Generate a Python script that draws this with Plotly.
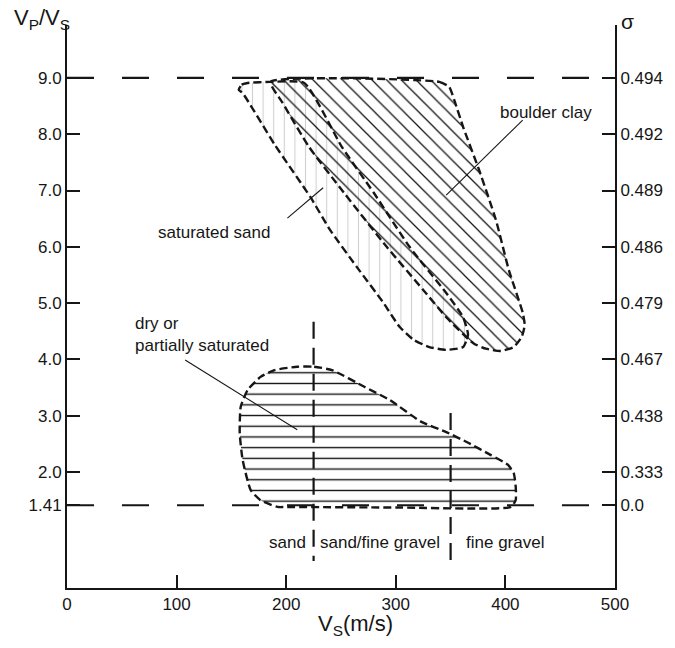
import plotly.graph_objects as go

# ---- outlines of the three soil fields (Vs in m/s, Vp/Vs ratio) ----
sat_sand_vs = [156.7, 159.4, 164.9, 185.7, 216.5, 250.9, 279.9, 312.5, 346.0, 361.4, 365.9,
               361.4, 346.0, 330.6, 316.1, 303.4, 288.9, 264.5, 240.0, 221.9, 190.0, 160.3, 156.7]
sat_sand_ratio = [8.79, 8.88, 8.91, 8.93, 8.91, 7.77, 6.96, 6.00, 5.18, 4.75, 4.44,
                  4.22, 4.17, 4.22, 4.35, 4.58, 5.00, 5.64, 6.30, 6.89, 7.80, 8.73, 8.79]

boulder_vs = [185.7, 339.7, 348.7, 353.3, 361.4, 375.9, 391.3, 403.1, 415.8, 417.6, 414.9,
              407.6, 395.8, 382.2, 371.4, 366.8, 346.0, 325.2, 291.7, 252.7, 221.0, 196.6, 185.7]
boulder_ratio = [8.93, 8.93, 8.84, 8.61, 8.13, 7.37, 6.48, 5.59, 4.83, 4.61, 4.40,
                 4.22, 4.15, 4.19, 4.28, 4.35, 4.75, 5.23, 6.00, 6.96, 7.77, 8.56, 8.93]

dry_vs = [210.1, 225.5, 241.8, 271.7, 294.4, 323.4, 346.0, 366.0, 386.8, 402.2, 407.6, 409.4,
          409.4, 405.0, 300.7, 201.0, 192.0, 176.6, 167.6, 160.3, 157.6, 158.5, 164.9, 176.6,
          189.3, 210.1]
dry_ratio = [3.87, 3.87, 3.81, 3.51, 3.28, 2.89, 2.71, 2.52, 2.30, 2.13, 1.98, 1.74,
             1.50, 1.38, 1.37, 1.38, 1.38, 1.50, 1.68, 2.21, 2.69, 3.16, 3.46, 3.69,
             3.81, 3.87]

# ---- axis ticks ----
ratio_ticks = [1.41, 2.0, 3.0, 4.0, 5.0, 6.0, 7.0, 8.0, 9.0]
ratio_labels = ["1.41", "2.0", "3.0", "4.0", "5.0", "6.0", "7.0", "8.0", "9.0"]
poisson_labels = ["0.0", "0.333", "0.438", "0.467", "0.479", "0.486", "0.489", "0.492", "0.494"]
vs_ticks = [0, 100, 200, 300, 400, 500]

# reference levels and grain-size boundaries
ratio_limits = [9.0, 1.41]
grain_bounds_vs = [225, 350]
grain_bounds_top = [4.67, 3.05]
grain_bounds_bottom = [0.42, 0.31]
grain_names = ["sand", "sand/fine gravel", "fine gravel"]
grain_name_vs = [201, 286, 400]

FONT = "Liberation Sans, Arial, Helvetica, sans-serif"
INK = "#161616"

fig = go.Figure()

outline = dict(color=INK, width=2.4, dash="8px,4px", shape="spline", smoothing=0.5)
clear = "rgba(255,255,255,0)"

fig.add_trace(go.Scatter(
    x=sat_sand_vs, y=sat_sand_ratio, mode="lines", fill="toself", fillcolor=clear,
    fillpattern=dict(shape="|", size=10.6, solidity=0.1, fgcolor="#d0d0d0",
                     fgopacity=1, bgcolor=clear),
    line=outline, hoverinfo="skip", showlegend=False))

fig.add_trace(go.Scatter(
    x=boulder_vs, y=boulder_ratio, mode="lines", fill="toself", fillcolor=clear,
    fillpattern=dict(shape="\\", size=10.4, solidity=0.12, fgcolor="#111111",
                     fgopacity=1, bgcolor=clear),
    line=outline, hoverinfo="skip", showlegend=False))

fig.add_trace(go.Scatter(
    x=dry_vs, y=dry_ratio, mode="lines", fill="toself", fillcolor=clear,
    fillpattern=dict(shape="-", size=10.7, solidity=0.13, fgcolor="#111111",
                     fgopacity=1, bgcolor=clear),
    line=outline, hoverinfo="skip", showlegend=False))

# leader lines from labels to fields
leaders = [((201.1, 6.51), (233.7, 7.05)),
           ((346.0, 6.92), (415.8, 8.25)),
           ((107.8, 3.99), (210.1, 2.75))]
for (x0, y0), (x1, y1) in leaders:
    fig.add_trace(go.Scatter(x=[x0, x1], y=[y0, y1], mode="lines",
                             line=dict(color=INK, width=1.1), hoverinfo="skip", showlegend=False))

# invisible trace so the right-hand axis is drawn
fig.add_trace(go.Scatter(x=[0], y=[5], yaxis="y2", mode="markers",
                         marker=dict(opacity=0), hoverinfo="skip", showlegend=False))

shapes = []
for r in ratio_limits:
    shapes.append(dict(type="line", xref="x", yref="y", x0=0, x1=500, y0=r, y1=r,
                       line=dict(color=INK, width=2.2, dash="27px,28px")))
for v, top, bot in zip(grain_bounds_vs, grain_bounds_top, grain_bounds_bottom):
    shapes.append(dict(type="line", xref="x", yref="y", x0=v, x1=v, y0=top, y1=bot,
                       line=dict(color=INK, width=2.2, dash="17px,9px")))

annotations = [
    dict(x=134, y=6.25, text="saturated sand", showarrow=False, xref="x", yref="y"),
    dict(x=436.6, y=8.38, text="boulder clay", showarrow=False, xref="x", yref="y"),
    dict(x=60.5, y=4.45, text="dry or<br>partially saturated", showarrow=False,
         xref="x", yref="y", xanchor="left", align="left"),
]
for name, v in zip(grain_names, grain_name_vs):
    annotations.append(dict(x=v, y=0.74, text=name, showarrow=False, xref="x", yref="y"))
for a in annotations:
    a["font"] = dict(family=FONT, size=17, color=INK)

annotations += [
    dict(x=-0.1, y=1.01, xref="paper", yref="paper", xanchor="left", yanchor="middle",
         text="V<sub>P</sub>/V<sub>S</sub>", showarrow=False,
         font=dict(family=FONT, size=22, color=INK)),
    dict(x=1.022, y=1.006, xref="paper", yref="paper", xanchor="center", yanchor="middle",
         text="σ", showarrow=False, font=dict(family=FONT, size=21, color=INK)),
    dict(x=0.526, y=-0.066, xref="paper", yref="paper", xanchor="center", yanchor="middle",
         text="V<sub>S</sub>(m/s)", showarrow=False, font=dict(family=FONT, size=22, color=INK)),
]

axis_common = dict(showline=True, linewidth=2, linecolor=INK, ticks="inside", ticklen=13,
                   tickwidth=2, tickcolor=INK, showgrid=False, zeroline=False,
                   tickfont=dict(family=FONT, size=17, color=INK))

fig.update_layout(
    width=675, height=648,
    margin=dict(l=67, r=55, t=25, b=60),
    paper_bgcolor="white", plot_bgcolor="white",
    xaxis=dict(range=[0, 500], tickvals=vs_ticks, **axis_common),
    yaxis=dict(range=[-0.06, 9.94], tickvals=ratio_ticks, ticktext=ratio_labels, **axis_common),
    yaxis2=dict(range=[-0.06, 9.94], tickvals=ratio_ticks, ticktext=poisson_labels,
                overlaying="y", side="right", anchor="x", **axis_common),
    shapes=shapes,
    annotations=annotations,
)

fig.write_html("out.html")
